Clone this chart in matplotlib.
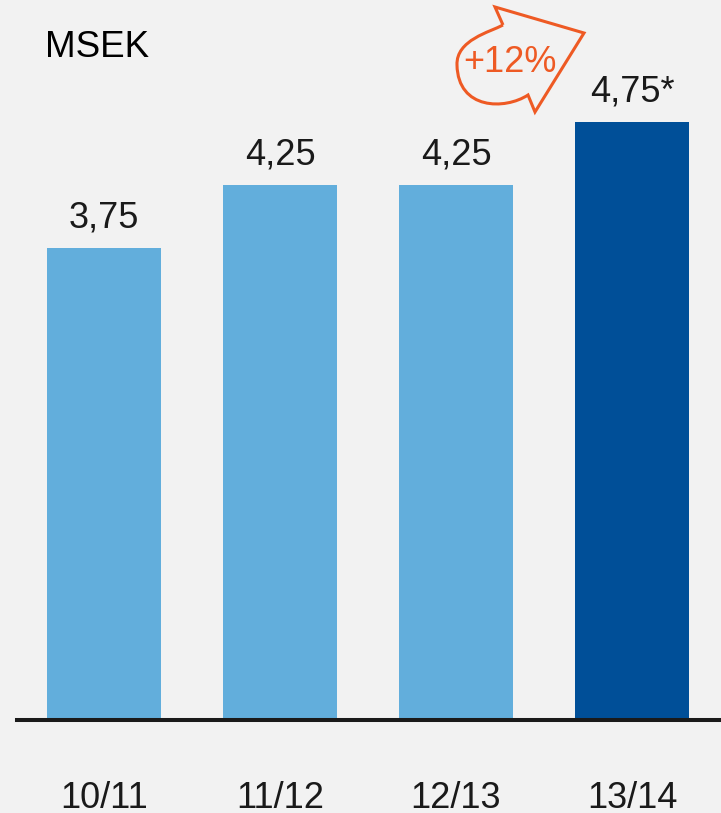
import matplotlib
matplotlib.use("Agg")
import matplotlib.pyplot as plt
from matplotlib.path import Path
from matplotlib.patches import PathPatch

# Dividend per season, MSEK
seasons = ["10/11", "11/12", "12/13", "13/14"]
values = [3.75, 4.25, 4.25, 4.75]
label_suffix = ["", "", "", "*"]
bar_colors = ["#62AEDC", "#62AEDC", "#62AEDC", "#004F98"]
unit_label = "MSEK"
growth_label = "+12%"

BG = "#F2F2F2"
ORANGE = "#EE5A24"
plt.rcParams["font.family"] = ["Liberation Sans", "DejaVu Sans"]

W, H = 721, 813
fig = plt.figure(figsize=(W / 100, H / 100), dpi=100, facecolor=BG)

# main bar axes (pixel layout: baseline at y=720, left edge at x=17)
base_px = 720
px_per_unit = 125.9
ax = fig.add_axes([17 / W, (H - base_px) / H, (W - 17) / W, base_px / H])
ax.set_facecolor(BG)
xs = list(range(len(seasons)))
ax.bar(xs, values, width=0.65, color=bar_colors, zorder=2)
ax.set_xlim(-0.494, 3.506)
ax.set_ylim(0, base_px / px_per_unit)

for s in ["top", "right", "left"]:
    ax.spines[s].set_visible(False)
ax.spines["bottom"].set_linewidth(2.9)
ax.spines["bottom"].set_color("#1A1A1A")
ax.spines["bottom"].set_zorder(3)
ax.set_yticks([])
ax.set_xticks(xs)
ax.set_xticklabels(seasons, fontsize=26, color="#1A1A1A")
ax.tick_params(axis="x", length=0, pad=44)

for x, v, suf in zip(xs, values, label_suffix):
    txt = f"{v:.2f}".replace(".", ",") + suf
    ax.annotate(txt, (x, v), xytext=(0, 15), textcoords="offset points",
                ha="center", va="baseline", fontsize=26, color="#1A1A1A")

# overlay in pixel coordinates for the unit label and growth arrow
ov = fig.add_axes([0, 0, 1, 1], facecolor="none")
ov.set_xlim(0, W)
ov.set_ylim(H, 0)
ov.axis("off")

ov.text(45, 57, unit_label, fontsize=26.5, color="black", ha="left", va="baseline")

verts = [
    (503, 25), (495, 7), (584, 33), (535, 112), (528, 95),
    (505, 110), (458, 110), (457, 65),
    (456, 40), (490, 32), (503, 25),
]
codes = [Path.MOVETO, Path.LINETO, Path.LINETO, Path.LINETO, Path.LINETO,
         Path.CURVE4, Path.CURVE4, Path.CURVE4,
         Path.CURVE4, Path.CURVE4, Path.CURVE4]
ov.add_patch(PathPatch(Path(verts, codes), facecolor="none", edgecolor=ORANGE,
                       linewidth=2.2, joinstyle="miter"))
ov.text(510, 72, growth_label, fontsize=26, color=ORANGE, ha="center", va="baseline")

fig.savefig("out.png", dpi=100, facecolor=BG)
